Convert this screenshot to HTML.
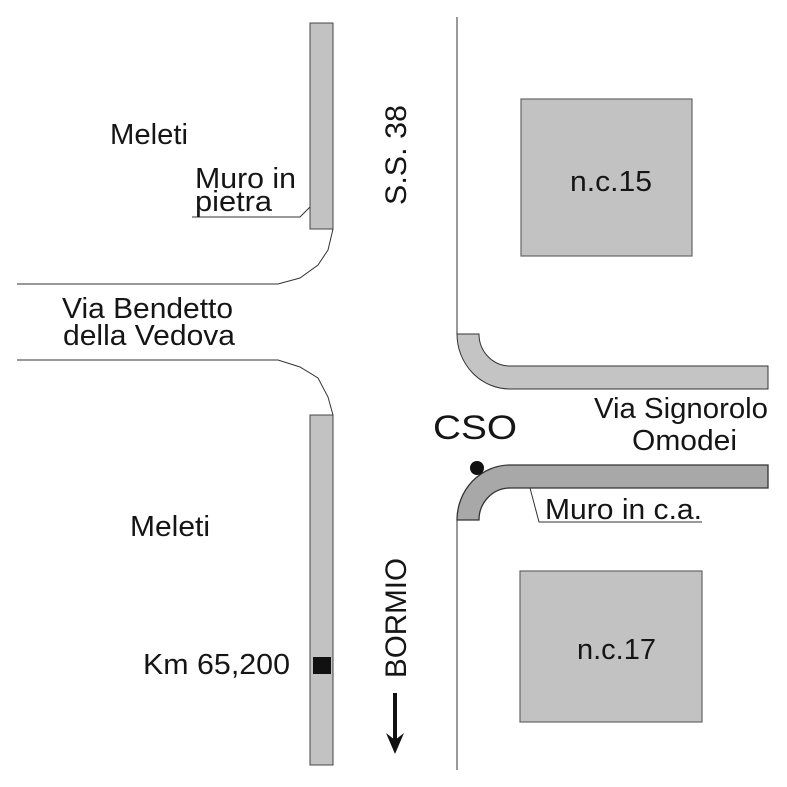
<!DOCTYPE html>
<html>
<head>
<meta charset="utf-8">
<style>
  html, body { margin: 0; padding: 0; background: #ffffff; }
  svg { display: block; }
  text { font-family: "Liberation Sans", Arial, sans-serif; fill: #151515; }
</style>
</head>
<body>
<svg width="787" height="787" viewBox="0 0 787 787" xmlns="http://www.w3.org/2000/svg">
  <rect x="0" y="0" width="787" height="787" fill="#ffffff"/>

  <!-- Left upper wall (Muro in pietra) -->
  <rect x="310" y="23" width="23" height="206" fill="#c2c2c2" stroke="#444" stroke-width="1"/>
  <!-- Left lower wall -->
  <rect x="310" y="415" width="23" height="350" fill="#c2c2c2" stroke="#444" stroke-width="1"/>

  <!-- Via Bendetto road edges -->
  <polyline points="17,284 278,284 300,278 318,265 328,250 333,229" fill="none" stroke="#333" stroke-width="1"/>
  <polyline points="17,360 278,360 300,367 318,378 328,397 333,415" fill="none" stroke="#333" stroke-width="1"/>

  <!-- Right road line (S.S. 38 east edge) -->
  <line x1="457" y1="17" x2="457" y2="334" stroke="#333" stroke-width="1"/>
  <line x1="457" y1="520" x2="457" y2="770" stroke="#333" stroke-width="1"/>

  <!-- Upper right curved wall -->
  <path d="M457,334 L479,334 A31,32 0 0 0 510,366 L768,366 L768,389 L510,389 A53,55 0 0 1 457,334 Z"
        fill="#c4c4c4" stroke="#333" stroke-width="1"/>

  <!-- Lower right curved wall (Muro in c.a.) -->
  <path d="M457,520 A53,55 0 0 1 510,465 L768,465 L768,488 L510,488 A31,32 0 0 0 479,520 Z"
        fill="#a8a8a8" stroke="#333" stroke-width="1.3"/>

  <!-- Buildings -->
  <rect x="521" y="99" width="171" height="157" fill="#c2c2c2" stroke="#666" stroke-width="1.2"/>
  <rect x="520" y="571" width="182" height="151" fill="#c2c2c2" stroke="#666" stroke-width="1.2"/>

  <!-- Leader lines -->
  <polyline points="192,217 300,217 310,207" fill="none" stroke="#333" stroke-width="1"/>
  <polyline points="530,488 539,522 702,522" fill="none" stroke="#333" stroke-width="1"/>

  <!-- CSO dot -->
  <circle cx="477" cy="468" r="7" fill="#111"/>

  <!-- Km marker -->
  <rect x="313" y="657" width="18" height="17" fill="#111"/>

  <!-- Arrow -->
  <line x1="395" y1="693" x2="395" y2="742" stroke="#111" stroke-width="4"/>
  <polygon points="395,754 386,733 395,740 404,733" fill="#111"/>

  <!-- Labels -->
  <text x="110" y="144" font-size="29" textLength="78" lengthAdjust="spacingAndGlyphs">Meleti</text>
  <text x="195" y="188" font-size="29" textLength="101" lengthAdjust="spacingAndGlyphs">Muro in</text>
  <text x="195" y="211" font-size="29" textLength="77" lengthAdjust="spacingAndGlyphs">pietra</text>

  <text x="62" y="318" font-size="29" textLength="171" lengthAdjust="spacingAndGlyphs">Via Bendetto</text>
  <text x="63" y="345" font-size="29" textLength="172" lengthAdjust="spacingAndGlyphs">della Vedova</text>

  <text transform="translate(406,205) rotate(-90)" x="0" y="0" font-size="30" textLength="100" lengthAdjust="spacingAndGlyphs">S.S. 38</text>
  <text transform="translate(406,678) rotate(-90)" x="0" y="0" font-size="30" textLength="120" lengthAdjust="spacingAndGlyphs">BORMIO</text>

  <text x="570" y="191" font-size="29" textLength="82" lengthAdjust="spacingAndGlyphs">n.c.15</text>
  <text x="577" y="659" font-size="29" textLength="79" lengthAdjust="spacingAndGlyphs">n.c.17</text>

  <text x="433" y="439" font-size="34" textLength="84" lengthAdjust="spacingAndGlyphs">CSO</text>

  <text x="594" y="418" font-size="29" textLength="174" lengthAdjust="spacingAndGlyphs">Via Signorolo</text>
  <text x="632" y="450" font-size="29" textLength="105" lengthAdjust="spacingAndGlyphs">Omodei</text>

  <text x="545" y="519" font-size="29" textLength="157" lengthAdjust="spacingAndGlyphs">Muro in c.a.</text>

  <text x="130" y="536" font-size="29" textLength="80" lengthAdjust="spacingAndGlyphs">Meleti</text>
  <text x="143" y="674" font-size="29" textLength="147" lengthAdjust="spacingAndGlyphs">Km 65,200</text>
</svg>
</body>
</html>
